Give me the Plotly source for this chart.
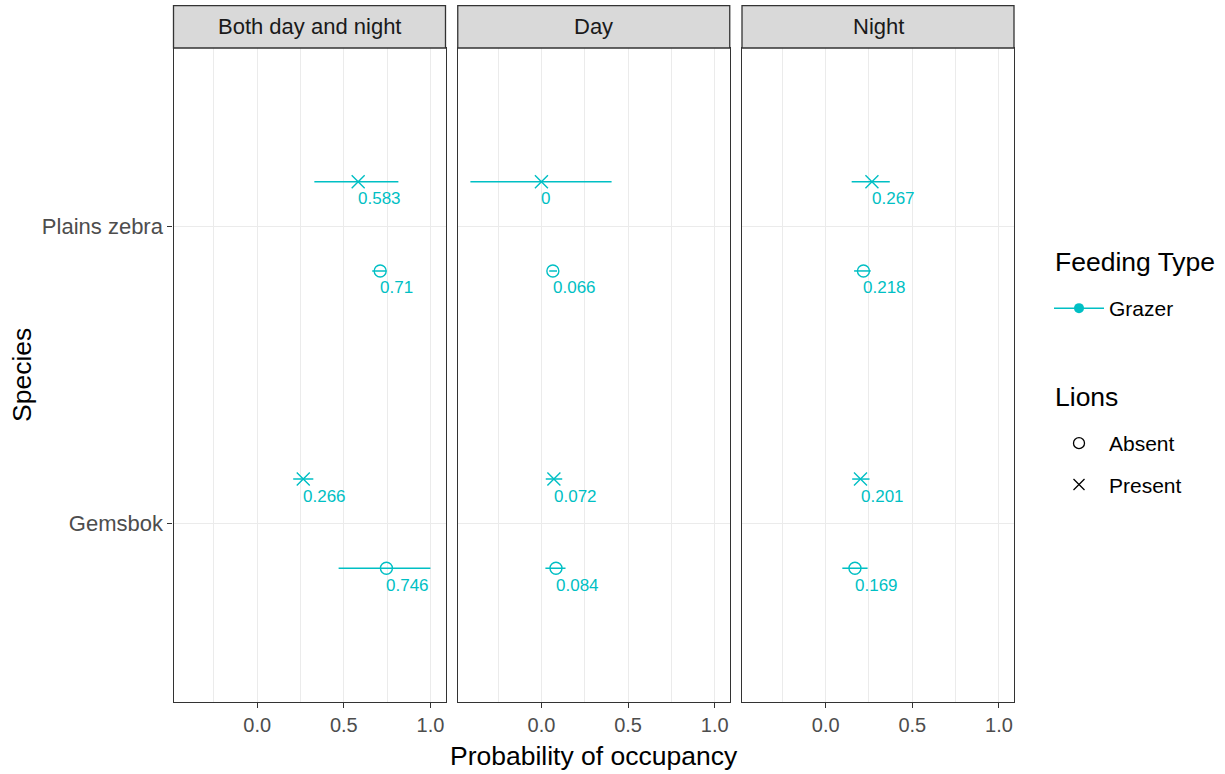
import plotly.graph_objects as go

# ---------------- data ----------------
periods = ["Both day and night", "Day", "Night"]
species_levels = ["Gemsbok", "Plains zebra"]          # bottom -> top
lion_levels = ["Absent", "Present"]

period = ["Both day and night"] * 4 + ["Day"] * 4 + ["Night"] * 4
species = ["Plains zebra", "Plains zebra", "Gemsbok", "Gemsbok"] * 3
lions = ["Absent", "Present"] * 6
estimate = [0.710, 0.583, 0.746, 0.266,
            0.066, 0.000, 0.084, 0.072,
            0.218, 0.267, 0.169, 0.201]
lower = [0.664, 0.330, 0.470, 0.208,
         0.045, -0.410, 0.023, 0.025,
         0.164, 0.150, 0.096, 0.153]
upper = [0.745, 0.815, 1.000, 0.324,
         0.090, 0.405, 0.139, 0.120,
         0.260, 0.370, 0.242, 0.253]
feeding_type = "Grazer"

x_ticks = [0.0, 0.5, 1.0]
x_tick_labels = ["0.0", "0.5", "1.0"]

# ---------------- style / layout ----------------
W, H = 1225, 774
TEAL = "#00BFC4"
FONT = "Liberation Sans, Arial, sans-serif"
BORDER = "#333333"
GRID = "#EBEBEB"

panel_px = [(173.5, 445.5), (457.75, 729.75), (742.0, 1014.0)]
panel_top, panel_bottom = 48.0, 702.0
strip_top = 5.7
x_range = [-0.483, 1.087]
y_range = [0.4, 2.6]
dodge = {"Absent": -0.15, "Present": 0.15}
symbols = {"Absent": "circle-open", "Present": "x-thin-open"}
sizes = {"Absent": 12, "Present": 13}


def px(x):
    return x / W


def py(y):
    return (H - y) / H


fig = go.Figure()
annotations = []
shapes = []

for pi, per in enumerate(periods):
    ax = "" if pi == 0 else str(pi + 1)
    for lv in lion_levels:
        idx = [i for i in range(len(period)) if period[i] == per and lions[i] == lv]
        xs = [estimate[i] for i in idx]
        ys = [species_levels.index(species[i]) + 1 + dodge[lv] for i in idx]
        fig.add_trace(go.Scatter(
            x=xs, y=ys, mode="markers",
            xaxis="x" + ax, yaxis="y" + ax,
            marker=dict(symbol=symbols[lv], size=sizes[lv], color=TEAL,
                        line=dict(color=TEAL, width=1.4)),
            error_x=dict(type="data", symmetric=False,
                         array=[upper[i] - estimate[i] for i in idx],
                         arrayminus=[estimate[i] - lower[i] for i in idx],
                         width=0, thickness=1.5, color=TEAL),
            showlegend=False, hoverinfo="x+y",
        ))
        for i, (xv, yv) in zip(idx, zip(xs, ys)):
            annotations.append(dict(
                x=xv, y=yv, xref="x" + ax, yref="y" + ax,
                text=f"{estimate[i]:g}", showarrow=False,
                xanchor="left", yanchor="middle", xshift=-2, yshift=-17,
                font=dict(family=FONT, size=17, color=TEAL),
            ))

    x0, x1 = panel_px[pi]
    fig.layout["xaxis" + ax] = dict(
        domain=[px(x0), px(x1)], range=x_range, anchor="y" + ax,
        tickvals=x_ticks, ticktext=x_tick_labels,
        ticks="outside", ticklen=5, tickwidth=1.3, tickcolor=BORDER,
        tickfont=dict(family=FONT, size=20, color="#4D4D4D"),
        showgrid=True, gridcolor=GRID, gridwidth=1.1,
        minor=dict(dtick=0.25, tick0=0, showgrid=True, gridcolor=GRID,
                   gridwidth=0.8, ticks=""),
        showline=True, linecolor=BORDER, linewidth=1.3, mirror=True,
        zeroline=False, fixedrange=True,
    )
    fig.layout["yaxis" + ax] = dict(
        domain=[py(panel_bottom), py(panel_top)], range=y_range, anchor="x" + ax,
        tickvals=[1, 2], ticktext=species_levels,
        showticklabels=(pi == 0),
        ticks="outside" if pi == 0 else "", ticklen=5, tickwidth=1.3, tickcolor=BORDER,
        tickfont=dict(family=FONT, size=22, color="#4D4D4D"),
        showgrid=True, gridcolor=GRID, gridwidth=1.1,
        showline=True, linecolor=BORDER, linewidth=1.3, mirror=True,
        zeroline=False, fixedrange=True,
    )
    # strip
    shapes.append(dict(type="rect", xref="paper", yref="paper",
                       x0=px(x0), x1=px(x1), y0=py(panel_top), y1=py(strip_top),
                       fillcolor="#D9D9D9", line=dict(color=BORDER, width=1.3),
                       layer="above"))
    annotations.append(dict(
        x=px((x0 + x1) / 2), y=py((panel_top + strip_top) / 2),
        xref="paper", yref="paper", text=per, showarrow=False,
        xanchor="center", yanchor="middle",
        font=dict(family=FONT, size=22, color="#1A1A1A"),
    ))

# axis titles
annotations.append(dict(
    x=px((panel_px[0][0] + panel_px[2][1]) / 2), y=py(756),
    xref="paper", yref="paper", text="Probability of occupancy", showarrow=False,
    xanchor="center", yanchor="middle",
    font=dict(family=FONT, size=26.5, color="#000000"),
))
annotations.append(dict(
    x=px(22), y=py((panel_top + panel_bottom) / 2),
    xref="paper", yref="paper", text="Species", showarrow=False, textangle=-90,
    xanchor="center", yanchor="middle",
    font=dict(family=FONT, size=26.5, color="#000000"),
))

# legend titles
for title, ty in (("Feeding Type", 262), ("Lions", 397)):
    annotations.append(dict(
        x=px(1053), y=py(ty), xref="paper", yref="paper", text=title,
        showarrow=False, xanchor="left", yanchor="middle",
        font=dict(family=FONT, size=26.5, color="#000000"),
    ))

# legend entries
fig.add_trace(go.Scatter(
    x=[None], y=[None], mode="lines+markers", name=feeding_type,
    marker=dict(symbol="circle", size=10, color=TEAL),
    line=dict(color=TEAL, width=1.5), legend="legend",
))
for lv in lion_levels:
    fig.add_trace(go.Scatter(
        x=[None], y=[None], mode="markers", name=lv,
        marker=dict(symbol=symbols[lv], size=11, color="#000000",
                    line=dict(color="#000000", width=1.3)),
        legend="legend2", legendgroup=lv,
    ))

fig.update_layout(
    width=W, height=H,
    margin=dict(l=0, r=0, t=0, b=0),
    paper_bgcolor="white", plot_bgcolor="white",
    font=dict(family=FONT),
    annotations=annotations, shapes=shapes,
    legend=dict(
        font=dict(family=FONT, size=21, color="#000000"),
        x=px(1049), y=py(288), xanchor="left", yanchor="top",
        bgcolor="rgba(0,0,0,0)", itemwidth=50,
    ),
    legend2=dict(
        font=dict(family=FONT, size=21, color="#000000"),
        x=px(1049), y=py(423), xanchor="left", yanchor="top",
        bgcolor="rgba(0,0,0,0)", itemwidth=50, tracegroupgap=11,
    ),
)

fig.write_html("out.html", config={"displayModeBar": False},
               post_script="document.body.style.margin='0';")
